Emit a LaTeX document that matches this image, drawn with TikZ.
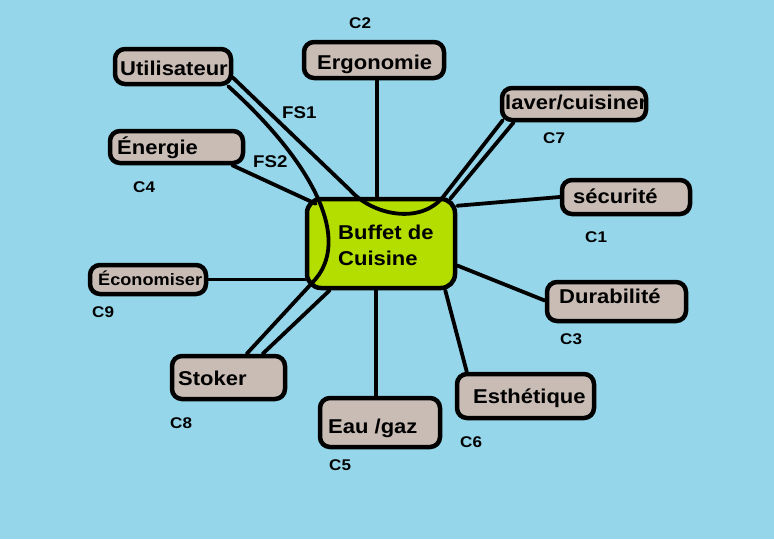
\documentclass[tikz,border=0pt]{standalone}
\usepackage{fontspec}
\setmainfont{Liberation Sans}[FakeStretch=1.1]
\usetikzlibrary{calc}
\definecolor{bg}{RGB}{150,214,234}
\definecolor{boxfill}{RGB}{200,188,181}
\definecolor{lime}{RGB}{180,221,0}
\begin{document}
\begin{tikzpicture}[x=1pt,y=-1pt,
  box/.style={draw=black, line width=4.5pt, fill=boxfill, rounded corners=10pt, inner sep=0pt},
  ctrbox/.style={draw=black, line width=4.5pt, fill=lime, rounded corners=14pt, inner sep=0pt},
  txt/.style={anchor=base west, inner sep=0pt, font=\bfseries\fontsize{20}{24}\selectfont},
  smalltxt/.style={anchor=base west, inner sep=0pt, font=\bfseries\fontsize{16.5}{20}\selectfont},
  lab/.style={anchor=base west, inner sep=0pt, font=\bfseries\fontsize{15.5}{18}\selectfont},
  fslab/.style={anchor=base west, inner sep=0pt, font=\bfseries\fontsize{17}{20}\selectfont},
  conn/.style={draw=black, line width=3.8pt, line cap=round, line join=round}]
\useasboundingbox[fill=bg] (0,0) rectangle (774,539);

% boxes
\node[box, minimum width=116pt, minimum height=35pt] (util) at (173,66.5) {};
\node[box, minimum width=140pt, minimum height=36pt] (ergo) at (374,60) {};
\node[box, minimum width=144pt, minimum height=32pt] (lav) at (574,104) {};
\node[box, minimum width=133pt, minimum height=32pt] (ener) at (176.5,147) {};
\node[box, minimum width=128pt, minimum height=34pt] (secu) at (626,197) {};
\node[box, minimum width=116pt, minimum height=29pt] (econ) at (148,279.5) {};
\node[box, minimum width=139pt, minimum height=39pt] (dura) at (616.5,301.5) {};
\node[box, minimum width=113pt, minimum height=43pt] (stok) at (228.5,377.5) {};
\node[box, minimum width=120pt, minimum height=49pt] (eau) at (380,422.5) {};
\node[box, minimum width=137pt, minimum height=44pt] (esth) at (525.5,396) {};
\node[ctrbox, minimum width=148pt, minimum height=89pt] (ctr) at (381,243.5) {};

% helper points
\coordinate (ergobot) at ($(ergo.south)+(3,0)$);
\coordinate (eautop) at ($(ctr.south)+(-5,0)$);

% straight connectors
\draw[conn] (ergobot) -- (ergobot |- ctr.north);
\draw[conn] ($(ener.south east)+(-13,0)$) -- ($(ctr.north west)+(11,7)$);
\draw[conn] (secu.west) -- ($(ctr.north east)+(0,9)$);
\draw[conn] ($(dura.west)+(0,-1)$) -- ($(ctr.east)+(0,22)$);
\draw[conn] (econ.east) -- (econ.east -| ctr.west);
\draw[conn] (eautop) -- (eautop |- eau.north);
\draw[conn] ($(ctr.south east)+(-12,0)$) -- ($(esth.north west)+(12,0)$);
\draw[conn] ($(ctr.south west)+(25,0)$) -- ($(stok.north west)+(93,0)$);
\draw[conn] ($(ctr.north east)+(-7,2)$) -- ($(lav.south west)+(14,0)$);

% curved connectors crossing the centre box
\draw[conn] ($(util.east)+(-1,10.5)$) -- (350,190)
  .. controls (372,215) and (420,225) .. (443,197) -- ($(lav.south west)+(3,-2)$);
\draw[conn] ($(util.south east)+(-5,0)$)
  .. controls (310,160) and (355,240) .. (312,283) -- ($(stok.north west)+(77,0)$);

% texts
\node[txt] (tutil) at (120,75) {Utilisateur};
\node[txt] (tergo) at (317,69) {Ergonomie};
\node[txt] (tlav) at (505,109) {laver/cuisiner};
\node[txt] (tener) at (117,154) {Énergie};
\node[txt] (tsecu) at (573,203) {sécurité};
\node[txt] (tctr1) at (338,239) {Buffet de};
\node[txt] (tctr2) at (338,265) {Cuisine};
\node[smalltxt] (tecon) at (98,285) {Économiser};
\node[txt] (tdura) at (559,303) {Durabilité};
\node[txt] (tstok) at (178,385) {Stoker};
\node[txt] (teau) at (328,433) {Eau /gaz};
\node[txt] (testh) at (473,403) {Esthétique};

% labels
\node[lab] (c2) at (349,28) {C2};
\node[fslab] (fs1) at (282,118) {FS1};
\node[lab] (c7) at (543,143) {C7};
\node[fslab] (fs2) at (253,167) {FS2};
\node[lab] (c4) at (133,192) {C4};
\node[lab] (c1) at (585,242) {C1};
\node[lab] (c9) at (92,317) {C9};
\node[lab] (c3) at (560,344) {C3};
\node[lab] (c8) at (170,428) {C8};
\node[lab] (c6) at (460,447) {C6};
\node[lab] (c5) at (329,470) {C5};
\end{tikzpicture}
\end{document}
